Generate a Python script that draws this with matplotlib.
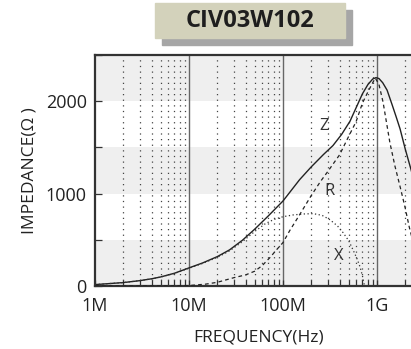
import matplotlib
matplotlib.use('Agg')
import matplotlib.pyplot as plt
from matplotlib.patches import Rectangle
from matplotlib.ticker import FixedLocator, NullFormatter
import numpy as np

plt.rcParams['font.family'] = ['Open Sans', 'DejaVu Sans']

title = 'CIV03W102'

# impedance curves (frequency in Hz, ohms)
f_z = [1e6, 1.5e6, 2e6, 3e6, 4e6, 5e6, 7e6, 10e6, 14e6, 20e6, 27e6, 37e6,
       50e6, 70e6, 100e6, 150e6, 200e6, 270e6, 340e6, 420e6, 516e6, 600e6,
       700e6, 800e6, 900e6, 975e6, 1.05e9, 1.15e9, 1.28e9, 1.45e9, 1.6e9,
       1.76e9, 2.0e9, 2.3e9, 2.6e9]
z = [15, 28, 37, 58, 78, 98, 138, 196, 250, 318, 391, 495,
     615, 760, 920, 1150, 1290, 1424, 1520, 1640, 1783, 1930,
     2080, 2180, 2240, 2255, 2245, 2200, 2120, 1960, 1830,
     1700, 1480, 1261, 1050]

f_r = [1e6, 5e6, 10e6, 15e6, 20e6, 30e6, 40e6, 50e6, 60e6, 73e6, 85e6,
       100e6, 118e6, 150e6, 200e6, 250e6, 300e6, 400e6, 500e6, 600e6, 700e6,
       800e6, 900e6, 960e6, 1.05e9, 1.16e9, 1.37e9, 1.55e9, 1.76e9, 2.0e9,
       2.2e9, 2.6e9]
r = [0, 1, 5, 20, 40, 90, 120, 160, 220, 310, 390,
     470, 600, 770, 980, 1130, 1240, 1420, 1620, 1780, 1980,
     2100, 2200, 2250, 2180, 1990, 1554, 1300, 1076, 840,
     641, 350]

f_x = [1e6, 1.5e6, 2e6, 3e6, 4e6, 5e6, 7e6, 10e6, 14e6, 20e6, 27e6, 37e6,
       50e6, 65e6, 80e6, 100e6, 130e6, 170e6, 210e6, 260e6, 316e6, 380e6,
       437e6, 500e6, 556e6, 610e6, 660e6, 700e6, 730e6, 740e6]
x = [15, 28, 37, 58, 78, 97, 136, 192, 245, 310, 380, 480,
     590, 675, 720, 750, 770, 780, 783, 765, 717, 650,
     576, 490, 391, 300, 207, 110, 20, 0]

xticks = [1e6, 1e7, 1e8, 1e9]
xticklabels = ['1M', '10M', '100M', '1G']

W, H = 411, 349
fig = plt.figure(figsize=(W / 100, H / 100), dpi=100)
x_right = 95 + 94 * np.log10(3e9 / 1e6)
ax = fig.add_axes([95 / W, (H - 286) / H, (x_right - 95) / W, (286 - 55) / H])

ax.set_xscale('log')
ax.set_xlim(1e6, 3e9)
ax.set_ylim(0, 2500)

# alternating gray bands
for lo in (0, 1000, 2000):
    ax.axhspan(lo, lo + 500, color='#efefef', zorder=0, lw=0)

# vertical grid
minor = [m * 10 ** e for e in range(6, 10) for m in range(2, 10) if m * 10 ** e < 3e9]
for v in minor:
    ax.axvline(v, color='#444444', lw=0.9, ls=(0, (1, 3.5)), zorder=1)
for v in xticks[1:]:
    ax.axvline(v, color='#666666', lw=1.0, zorder=1)

ax.plot(f_z, z, color='#222222', lw=1.0, zorder=3)
ax.plot(f_r, r, color='#222222', lw=0.9, ls=(0, (3, 2.5)), zorder=3)
ax.plot(f_x, x, color='#333333', lw=0.9, ls=(0, (1, 2)), zorder=3)

ax.text(2.73e8, 1730, 'Z', fontsize=12, color='#333333', ha='center', va='center')
ax.text(3.16e8, 1030, 'R', fontsize=12, color='#333333', ha='center', va='center')
ax.text(3.95e8, 326, 'X', fontsize=12, color='#333333', ha='center', va='center')

ax.xaxis.set_major_locator(FixedLocator(xticks))
ax.set_xticklabels(xticklabels)
ax.xaxis.set_minor_locator(FixedLocator(minor))
ax.xaxis.set_minor_formatter(NullFormatter())
ax.yaxis.set_major_locator(FixedLocator([0, 500, 1000, 1500, 2000, 2500]))
ax.set_yticklabels(['0', '', '1000', '', '2000', ''])

ax.tick_params(axis='both', which='both', direction='in', length=4, width=0.9,
               color='#333333', labelsize=13, labelcolor='#222222', pad=6)
ax.tick_params(axis='x', pad=8)
ax.tick_params(axis='y', length=5)
for s in ax.spines.values():
    s.set_linewidth(1.6)
    s.set_color('#333333')
ax.spines['right'].set_visible(False)

ax.set_xlabel('FREQUENCY(Hz)', fontsize=12.5, color='#222222', labelpad=10)
ax.set_ylabel('IMPEDANCE(Ω )', fontsize=12.5, color='#222222', labelpad=6)

# title box with shadow
fig.patches.append(Rectangle((162 / W, 1 - 45 / H), 190 / W, 35 / H,
                             transform=fig.transFigure, color='#a6a6a6', zorder=0))
fig.patches.append(Rectangle((155 / W, 1 - 38 / H), 190 / W, 35 / H,
                             transform=fig.transFigure, color='#d3d2bb', zorder=1))
fig.text(250 / W, 1 - 21 / H, title, fontsize=17, fontweight='bold',
         color='#1e1e1e', ha='center', va='center')

fig.savefig('out.png', dpi=100)
